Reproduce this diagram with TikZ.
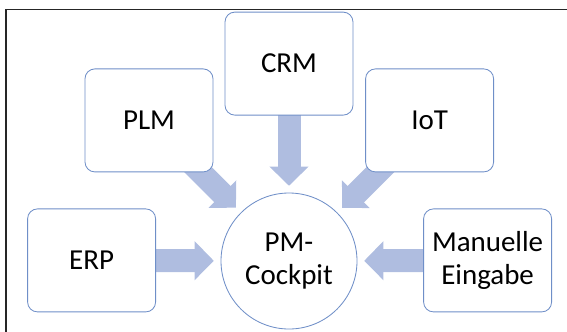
\documentclass[tikz,border=0pt]{standalone}
\usepackage{fontspec}
\setmainfont{Carlito}
\usepackage{tikz}
\usetikzlibrary{
  positioning,
  arrows.meta,
  backgrounds
}

\definecolor{boxline}{HTML}{6F8FC8}
\definecolor{flowfill}{HTML}{AFBDE0}

\begin{document}
\begin{tikzpicture}[
  font=\fontsize{20.6}{24}\selectfont,
  system/.style={
    rectangle,
    rounded corners=7pt,
    draw=boxline,
    fill=white,
    line width=0.6pt,
    minimum width=3.2cm,
    minimum height=2.575cm,
    align=center
  },
  hub/.style={
    circle,
    draw=boxline,
    fill=white,
    line width=0.6pt,
    minimum size=3.4cm,
    inner sep=0pt,
    align=center
  },
  flow/.style={
    -{Triangle[length=0.48cm, width=0.95cm]},
    line width=0.575cm,
    draw=flowfill,
    shorten >=0.17cm
  }
]

% Page and outer frame
\useasboundingbox (0,0) rectangle (14.175,-8.275);
\clip (0,0) rectangle (14.175,-8.275);
\draw[line width=0.8pt, draw=black!85] (0.15,-0.24) rectangle (15,-9);

% Cockpit in the middle
\node[hub] (cockpit) at (7.225,-6.525) {PM-\\Cockpit};

% Source systems
\node[system] (crm) at (7.225,-1.59) {CRM};
\node[system] (plm) at (3.725,-3.01) {PLM};
\node[system] (iot) at (10.74,-3.01) {IoT};
\node[system] (erp) at (2.29,-6.51) {ERP};
\node[system] (manual) at (12.19,-6.51) {Manuelle\\Eingabe};

% Data flows into the cockpit
\begin{scope}[on background layer]
\draw[flow] (crm.center) -- (cockpit);
\draw[flow] (plm.center) -- (cockpit);
\draw[flow] (iot.center) -- (cockpit);
\draw[flow] (erp.center) -- (cockpit);
\draw[flow] (manual.center) -- (cockpit);
\end{scope}

\end{tikzpicture}
\end{document}
